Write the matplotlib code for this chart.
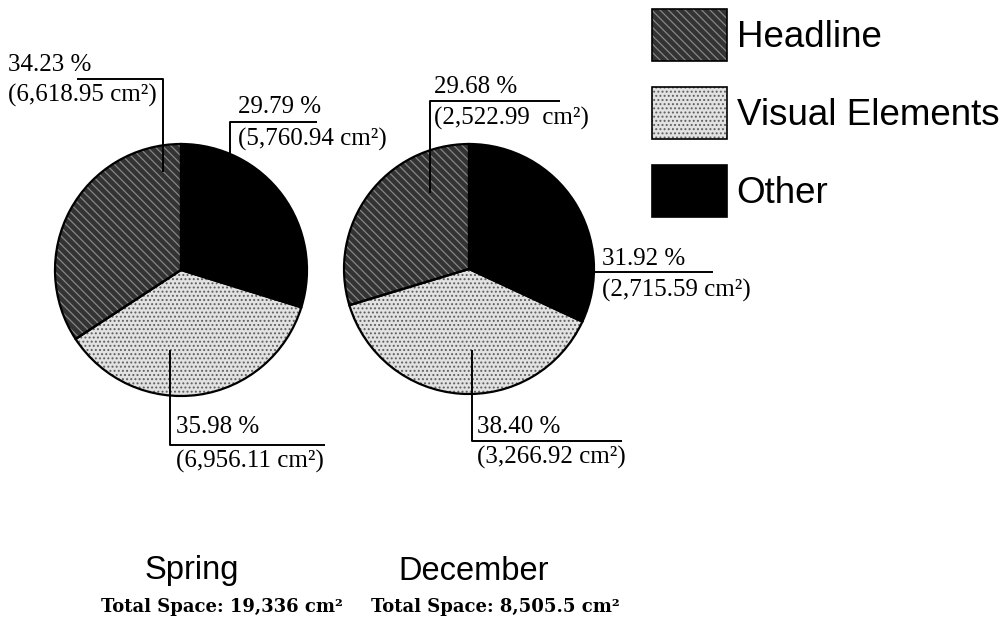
import matplotlib
matplotlib.use("Agg")
import matplotlib.pyplot as plt
from matplotlib.patches import Patch
from matplotlib.legend_handler import HandlerTuple

categories = ["Other", "Visual Elements", "Headline"]
spring_pct = [29.79, 35.98, 34.23]
december_pct = [31.92, 38.40, 29.68]
spring_area = ["5,760.94", "6,956.11", "6,618.95"]
december_area = ["2,715.59", "3,266.92", "2,522.99 "]
titles = ["Spring", "December"]
totals = ["Total Space: 19,336 cm²", "Total Space: 8,505.5 cm²"]
legend_order = ["Headline", "Visual Elements", "Other"]

W, H = 1002, 630
plt.rcParams['hatch.linewidth'] = 0.9
fig = plt.figure(figsize=(W / 100, H / 100), dpi=100)
ax = fig.add_axes([0, 0, 1, 1])
ax.set_xlim(0, W)
ax.set_ylim(0, H)
ax.set_aspect('equal')
ax.axis('off')

def Y(y):
    return H - y

styles = {
    "Headline": dict(face="#333333", hatch="\\\\\\\\", hc="#858585"),
    "Visual Elements": dict(face="#e2e2e2", hatch="....", hc="#5e5e5e"),
    "Other": dict(face="#000000", hatch=None, hc="#000000"),
}

def draw_pie(vals, cx, cy, r):
    fills = [styles[c]["face"] for c in categories]
    wedges, _ = ax.pie(vals, colors=fills, startangle=90, counterclock=False,
                       center=(cx, Y(cy)), radius=r,
                       wedgeprops=dict(linewidth=0))
    for w, c in zip(wedges, categories):
        st = styles[c]
        if st["hatch"]:
            w.set_hatch(st["hatch"])
            w.set_edgecolor(st["hc"])
    ax.pie(vals, colors=["none"] * 3, startangle=90, counterclock=False,
           center=(cx, Y(cy)), radius=r,
           wedgeprops=dict(linewidth=1.6, edgecolor="black", facecolor="none"))

draw_pie(spring_pct, 181, 270, 126)
draw_pie(december_pct, 469, 269, 125)
ax.set_xlim(0, W)
ax.set_ylim(0, H)

serif = dict(family="Liberation Serif", fontsize=18, color="black")

def label(pct, area, x, y1, y2):
    ax.text(x, Y(y1), f"{pct:.2f} %", ha="left", va="center", **serif)
    ax.text(x, Y(y2), f"({area} cm²)", ha="left", va="center", **serif)

def line(xs, ys):
    ax.plot(xs, [Y(v) for v in ys], color="black", lw=1.4, solid_capstyle="butt")

# Spring labels
label(spring_pct[2], spring_area[2], 8, 65, 95)
line([77, 163, 163], [79, 79, 172])
label(spring_pct[0], spring_area[0], 238, 107, 139)
line([317, 230, 230], [122, 122, 156])
label(spring_pct[1], spring_area[1], 176, 427, 461)
line([170, 170, 325], [350, 445, 445])

# December labels
label(december_pct[2], december_area[2], 434, 87, 118)
line([560, 430, 430], [101, 101, 193])
label(december_pct[0], december_area[0], 602, 259, 290)
line([594, 713], [272, 272])
label(december_pct[1], december_area[1], 477, 427, 457)
line([472, 472, 622], [350, 441, 441])

# Titles
sans = dict(family="Liberation Sans", color="black")
ax.text(192, Y(571), titles[0], ha="center", va="center", fontsize=23.5, **sans)
ax.text(474, Y(571), titles[1], ha="center", va="center", fontsize=23.5, **sans)
ax.text(222, Y(607), totals[0], ha="center", va="center", fontsize=13,
        family="DejaVu Serif", weight="bold")
ax.text(495, Y(607), totals[1], ha="center", va="center", fontsize=13,
        family="DejaVu Serif", weight="bold")

# Legend
handles = []
for c in legend_order:
    st = styles[c]
    fill = Patch(facecolor=st["face"], hatch=st["hatch"],
                 edgecolor=st["hc"], linewidth=0)
    outline = Patch(facecolor="none", edgecolor="black", linewidth=1.2)
    handles.append((fill, outline))
fig.legend(handles=handles, labels=legend_order, loc="upper left",
           handler_map={tuple: HandlerTuple(ndivide=1, pad=0)},
           bbox_to_anchor=(652 / W, 1 - 9 / H), frameon=False,
           borderpad=0, borderaxespad=0, handlelength=2.05, handleheight=1.78,
           handletextpad=0.25, labelspacing=0.72,
           prop=dict(family="Liberation Sans", size=26.5))

fig.savefig("out.png", dpi=100)
